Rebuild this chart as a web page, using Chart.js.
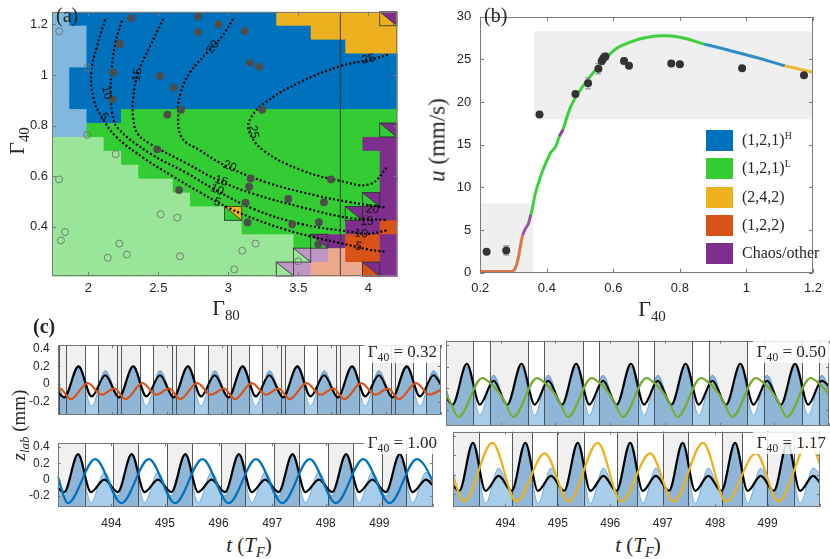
<!DOCTYPE html>
<html>
<head>
<meta charset="utf-8">
<script src="https://cdn.jsdelivr.net/npm/chart.js@4.4.1/dist/chart.umd.min.js"></script>
<style>
  html, body { margin: 0; padding: 0; background: #fff; }
  #fig { position: relative; width: 830px; height: 559px; overflow: hidden; background: #fff;
         font-family: "Liberation Serif", "Times New Roman", serif; color: #262626; }
  #fig canvas { position: absolute; }
  .lbl { position: absolute; white-space: nowrap; line-height: 1; }
  .ctr { transform: translate(-50%, -50%); }
  .rot { transform: translate(-50%, -50%) rotate(-90deg); }
  sub { font-size: 0.68em; vertical-align: baseline; position: relative; top: 0.32em; }
  sup { font-size: 0.62em; vertical-align: baseline; position: relative; top: -0.6em; }
  .tag { position: absolute; background: rgba(255,255,255,0.85); font-size: 17px; line-height: 1;
         padding: 2px 3px 3px 4px; white-space: nowrap; }
  .key { position: absolute; left: 706px; width: 27px; height: 21px; }
  .keyt { position: absolute; left: 742px; font-size: 16px; line-height: 1; white-space: nowrap; }
</style>
</head>
<body>
<div id="fig">
  <canvas id="ca" width="410" height="300" style="left:0;top:0"></canvas>
  <canvas id="cb" width="410" height="300" style="left:420px;top:0"></canvas>
  <canvas id="c1" width="443" height="100" style="left:0;top:330px"></canvas>
  <canvas id="c2" width="387" height="100" style="left:443px;top:330px"></canvas>
  <canvas id="c3" width="443" height="104" style="left:0;top:428px"></canvas>
  <canvas id="c4" width="387" height="104" style="left:443px;top:428px"></canvas>

  <div class="lbl" style="left:56px;top:5px;font-size:20px">(a)</div>
  <div class="lbl" style="left:484px;top:5px;font-size:20px">(b)</div>
  <div class="lbl" style="left:33px;top:316px;font-size:20px;font-weight:bold">(c)</div>

  <div class="lbl ctr" style="left:226px;top:308px;font-size:22px">Γ<sub>80</sub></div>
  <div class="lbl rot" style="left:17px;top:141px;font-size:22px">Γ<sub>40</sub></div>
  <div class="lbl rot" style="left:437px;top:140px;font-size:23px"><i>u</i> (mm/s)</div>
  <div class="lbl ctr" style="left:652px;top:309px;font-size:22px">Γ<sub>40</sub></div>
  <div class="lbl rot" style="left:18px;top:425px;font-size:19px"><i>z</i><sub><i>lab</i></sub> (mm)</div>
  <div class="lbl ctr" style="left:249px;top:545px;font-size:21px"><i>t</i> (<i>T</i><sub><i>F</i></sub>)</div>
  <div class="lbl ctr" style="left:638px;top:545px;font-size:21px"><i>t</i> (<i>T</i><sub><i>F</i></sub>)</div>

  <div class="tag" style="right:390px;top:341px">Γ<sub>40</sub> = 0.32</div>
  <div class="tag" style="right:1px;top:341px">Γ<sub>40</sub> = 0.50</div>
  <div class="tag" style="right:390px;top:432px">Γ<sub>40</sub> = 1.00</div>
  <div class="tag" style="right:1px;top:432px">Γ<sub>40</sub> = 1.17</div>

  <div class="key" style="top:130px;background:#0072BD"></div>
  <div class="keyt" style="top:132px">(1,2,1)<sup>H</sup></div>
  <div class="key" style="top:158px;background:#33CC33"></div>
  <div class="keyt" style="top:160px">(1,2,1)<sup>L</sup></div>
  <div class="key" style="top:187px;background:#EDB120"></div>
  <div class="keyt" style="top:189px">(2,4,2)</div>
  <div class="key" style="top:215px;background:#D95319"></div>
  <div class="keyt" style="top:217px">(1,2,2)</div>
  <div class="key" style="top:243px;background:#7E2F8E"></div>
  <div class="keyt" style="top:245px">Chaos/other</div>
</div>

<script>
// ---------- (a) regime map ----------
const g80 = [1.802,1.925,2.048,2.171,2.295,2.418,2.541,2.664,2.788,2.911,3.034,3.157,3.281,3.404,3.527,3.650,3.774,3.897,4.020,4.143];
const g40 = [1.2225,1.1675,1.1125,1.0575,1.0025,0.9475,0.8925,0.8375,0.7825,0.7275,0.6725,0.6175,0.5625,0.5075,0.4525,0.3975,0.3425,0.2875,0.2325];
// b=(1,2,1)H  g=(1,2,1)L  y=(2,4,2)  o=(1,2,2)  p=chaos ; c,h,q,r = lighter versions
const regimeRows = [
  "cbbbbbbbbbbbbyyyyyyy",
  "ccbbbbbbbbbbbbbyyyyy",
  "ccbbbbbbbbbbbbbbbyyy",
  "ccbbbbbbbbbbbbbbbbbb",
  "cbbbbbbbbbbbbbbbbbbb",
  "cbbbbbbbbbbbbbbbbbbb",
  "cbbbbbbbbbbbbbbbbbbb",
  "ccbbgggggggggggggggg",
  "ccgggggggggggggggggg",
  "hhhgggggggggggggggpp",
  "hhhhgggggggggggggggp",
  "hhhhhggggggggggggggp",
  "hhhhhhhggggggggggggp",
  "hhhhhhhhgggggggggggp",
  "hhhhhhhhhhggggggggpp",
  "hhhhhhhhhhhggggggppo",
  "hhhhhhhhhhhhhhggpoop",
  "hhhhhhhhhhhhhhhrqoop",
  "hhhhhhhhhhhhhhrqqqop"
];
// [column, row, upper-right regime] for split cells
const splitCells = [[19,0,'p'],[19,8,'p'],[18,13,'p'],[10,14,'y'],[17,14,'p'],[15,16,'p'],[14,17,'r'],[13,18,'r'],[18,18,'p']];
const regimeColor = {b:'#0072BD', c:'#80B8DE', g:'#33CC33', h:'#99E699', y:'#EDB120',
                     o:'#D95319', q:'#ECA98C', p:'#7E2F8E', r:'#BF97C6'};

const speed5  = [[2.12,1.22],[2.06,1.11],[2.02,1.01],[2.04,0.90],[2.10,0.83],[2.20,0.755],[2.40,0.67],[2.60,0.60],[2.80,0.535],[3.00,0.475],[3.20,0.428],[3.40,0.39],[3.60,0.36],[3.80,0.335],[4.00,0.31],[4.13,0.30]];
const speed10 = [[2.24,1.215],[2.19,1.12],[2.165,1.01],[2.16,0.93],[2.17,0.85],[2.21,0.79],[2.44,0.69],[2.70,0.613],[2.90,0.548],[3.18,0.47],[3.51,0.412],[3.87,0.38],[4.00,0.372],[4.13,0.385]];
const speed15 = [[2.535,1.222],[2.44,1.113],[2.356,1.01],[2.32,0.908],[2.32,0.83],[2.35,0.77],[2.44,0.728],[2.70,0.651],[2.93,0.583],[3.18,0.53],[3.51,0.479],[3.87,0.434],[4.13,0.427]];
const speed20 = [[3.035,1.222],[2.95,1.15],[2.85,1.09],[2.726,1.01],[2.66,0.93],[2.642,0.86],[2.666,0.754],[2.797,0.702],[2.988,0.639],[3.274,0.575],[3.63,0.523],[3.869,0.497],[4.13,0.475]];
const speed25 = [[4.14,1.08],[4.01,1.06],[3.80,1.035],[3.51,0.971],[3.27,0.894],[3.16,0.83],[3.15,0.775],[3.25,0.702],[3.51,0.626],[3.80,0.581],[4.01,0.568],[4.14,0.638]];
const speedLabels = [
  ['5',2.11,0.835,60],['5',2.92,0.497,20],['5',3.93,0.322,12],
  ['10',2.13,0.93,78],['10',2.92,0.545,20],['10',3.95,0.372,5],
  ['15',2.35,1.0,-80],['15',2.95,0.58,18],['15',3.99,0.42,-3],
  ['20',2.89,1.11,-55],['20',3.01,0.638,22],['20',4.03,0.468,3],
  ['25',4.0,1.062,-12],['25',3.18,0.775,80]
];
const cutG80 = 3.8;

const walkG80 = [2.304,2.785,2.785,2.928,3.116,2.226,3.154,3.22,2.178,2.511,2.611,2.174,2.564,2.661,3.242,2.492,2.648,3.159,3.149,3.123,3.138,3.428,3.456,3.647,3.683,3.733,3.642];
const walkG40 = [1.225,1.231,1.17,1.2,1.174,1.123,1.048,1.033,1.01,0.995,0.95,0.904,0.843,0.863,0.863,0.706,0.545,0.591,0.558,0.495,0.417,0.51,0.41,0.418,0.497,0.587,0.331];
const stillG80 = [1.792,1.992,1.992,2.195,1.79,2.516,2.635,1.833,1.804,2.221,2.138,2.275,2.654,3.099,3.195,3.042,3.499];
const stillG40 = [1.173,1.029,0.763,0.687,0.587,0.449,0.436,0.379,0.346,0.333,0.277,0.29,0.283,0.305,0.333,0.231,0.263];

// ---------- (b) speed vs Gamma40 ----------
const seg122   = [[0.20,0.15],[0.295,0.15],[0.305,0.5],[0.313,1.5],[0.32,3.0],[0.327,4.4]];
const segChaos1= [[0.327,4.4],[0.335,5.1],[0.345,5.8],[0.352,6.8]];
const segL1    = [[0.352,6.8],[0.357,7.6],[0.364,9.05],[0.383,11.5],[0.398,12.97],[0.412,14.1],[0.427,14.8],[0.437,15.95]];
const segChaos2= [[0.437,15.95],[0.449,16.8]];
const segL2    = [[0.449,16.8],[0.47,19.3],[0.509,21.9],[0.558,24.3],[0.606,26.2],[0.655,27.1],[0.703,27.6],[0.752,27.77],[0.80,27.6],[0.873,26.8]];
const segH     = [[0.873,26.8],[0.945,26.1],[1.042,25.1],[1.115,24.26]];
const seg242   = [[1.115,24.26],[1.2,23.5]];
const expG40 = [0.219,0.278,0.378,0.486,0.524,0.555,0.565,0.570,0.576,0.632,0.647,0.774,0.80,0.987,1.173];
const expU   = [2.46,2.61,18.55,20.94,22.2,23.9,24.82,25.15,25.34,24.82,24.26,24.52,24.45,23.96,23.14];
const expErr = [0.15,0.55,0.2,0.2,0.65,0.6,0.4,0.5,0.4,0.35,0.2,0.35,0.2,0.2,0.2];
const shadeLow  = [[0.2,8.1],[0.36,8.1]];
const shadeHigh = [[0.36,28.3],[1.2,28.3]];

// ---------- (c) time traces ----------
const tBath = [493.00,493.12,493.38,493.62,493.87,494.12,494.38,494.62,494.87,495.12,495.38,495.62,495.87,496.12,496.38,496.62,496.87,497.12,497.38,497.62,497.87,498.12,498.38,498.62,498.87,499.12,499.38,499.62,499.87,500.00];

const zBlackTL = [-0.09, -0.15,0.20,-0.14,0.10, -0.15,0.20,-0.14,0.10, -0.15,0.20,-0.14,0.10, -0.15,0.20,-0.14,0.10, -0.15,0.20,-0.14,0.10, -0.15,0.20,-0.14,0.10, -0.15,0.20,-0.14,0.10, 0.00];
const zBathTL  = [0.03, -0.16,0.18,-0.25,0.15, -0.16,0.18,-0.25,0.15, -0.16,0.18,-0.25,0.15, -0.16,0.18,-0.25,0.15, -0.16,0.18,-0.25,0.15, -0.16,0.18,-0.25,0.15, -0.16,0.18,-0.25,0.15, 0.03];
const tDropTL  = [492.80, 493.04,493.24,493.55,493.80, 494.04,494.24,494.55,494.80, 495.04,495.24,495.55,495.80, 496.04,496.24,496.55,496.80, 497.04,497.24,497.55,497.80, 498.04,498.24,498.55,498.80, 499.04,499.24,499.55,499.80, 500.04];
const zDropTL  = [-0.12, -0.05,-0.17,0.01,-0.12, -0.05,-0.17,0.01,-0.12, -0.05,-0.17,0.01,-0.12, -0.05,-0.17,0.01,-0.12, -0.05,-0.17,0.01,-0.12, -0.05,-0.17,0.01,-0.12, -0.05,-0.17,0.01,-0.12, -0.05];
const linesTL = [493.03,493.15,493.50,493.74,494.09,494.16,494.50,494.74,495.09,495.16,495.50,495.74,496.09,496.16,496.50,496.74,497.09,497.16,497.50,497.74,498.09,498.16,498.50,498.74,499.09,499.16,499.50,499.74];
const grayTL  = [[493.03,493.50],[493.74,494.50],[494.74,495.50],[495.74,496.50],[496.74,497.50],[497.74,498.50],[498.74,499.50],[499.74,500.0]];

const zBlackTR = [-0.08, -0.15,0.225,-0.15,0.07, -0.15,0.225,-0.15,0.07, -0.15,0.225,-0.15,0.07, -0.15,0.225,-0.15,0.07, -0.15,0.225,-0.15,0.07, -0.15,0.225,-0.15,0.07, -0.15,0.225,-0.15,0.07, 0.02];
const zBathTR  = [0.00, -0.17,0.20,-0.25,0.12, -0.17,0.20,-0.25,0.12, -0.17,0.20,-0.25,0.12, -0.17,0.20,-0.25,0.12, -0.17,0.20,-0.25,0.12, -0.17,0.20,-0.25,0.12, -0.17,0.20,-0.25,0.12, 0.00];
const tDropTR  = [492.97,493.06, 493.23,493.66,493.85,493.97,494.06, 494.23,494.66,494.85,494.97,495.06, 495.23,495.66,495.85,495.97,496.06, 496.23,496.66,496.85,496.97,497.06, 497.23,497.66,497.85,497.97,498.06, 498.23,498.66,498.85,498.97,499.06, 499.23,499.66,499.85,499.97,500.06];
const zDropTR  = [-0.04,-0.11, -0.265,0.095,0.03,-0.04,-0.11, -0.265,0.095,0.03,-0.04,-0.11, -0.265,0.095,0.03,-0.04,-0.11, -0.265,0.095,0.03,-0.04,-0.11, -0.265,0.095,0.03,-0.04,-0.11, -0.265,0.095,0.03,-0.04,-0.11, -0.265,0.095,0.03,-0.04,-0.11];
const linesTR = [493.50,493.80,494.50,494.80,495.50,495.80,496.50,496.81,497.49,497.80,498.50,498.81,499.51,499.81];
const grayTR  = [[493.0,493.50],[493.80,494.50],[494.80,495.50],[495.80,496.50],[496.81,497.49],[497.80,498.50],[498.81,499.51],[499.81,500.0]];

const zBlackBL = [-0.10, -0.15,0.31,-0.15,0.00, -0.15,0.31,-0.15,0.00, -0.15,0.31,-0.15,0.00, -0.15,0.31,-0.15,0.00, -0.15,0.31,-0.15,0.00, -0.15,0.31,-0.15,0.00, -0.15,0.31,-0.15,0.00, -0.07];
const zBathBL  = [0.04, -0.20,0.29,-0.28,0.09, -0.20,0.29,-0.28,0.09, -0.20,0.29,-0.28,0.09, -0.20,0.29,-0.28,0.09, -0.20,0.29,-0.28,0.09, -0.20,0.29,-0.28,0.09, -0.20,0.29,-0.28,0.09, 0.02];
const tDropBL  = [493.00, 493.19,493.70, 494.19,494.70, 495.19,495.70, 496.19,496.70, 497.19,497.70, 498.19,498.70, 499.19,499.70, 500.19];
const zDropBL  = [0.04, -0.285,0.25, -0.285,0.25, -0.285,0.25, -0.285,0.25, -0.285,0.25, -0.285,0.25, -0.285,0.25, -0.285];
const linesBL = [493.50,494.04,494.50,495.04,495.50,496.05,496.50,497.04,497.50,498.04,498.50,499.04,499.50];
const grayBL  = [[493.0,493.50],[494.04,494.50],[495.04,495.50],[496.05,496.50],[497.04,497.50],[498.04,498.50],[499.04,499.50]];

const zBlackBR = [-0.11, -0.165,0.33,-0.165,-0.01, -0.165,0.33,-0.165,-0.01, -0.165,0.33,-0.165,-0.01, -0.165,0.33,-0.165,-0.01, -0.165,0.33,-0.165,-0.01, -0.165,0.33,-0.165,-0.01, -0.165,0.33,-0.165,-0.01, -0.08];
const zBathBR  = [0.03, -0.20,0.31,-0.295,0.07, -0.20,0.31,-0.295,0.07, -0.20,0.31,-0.295,0.07, -0.20,0.31,-0.295,0.07, -0.20,0.31,-0.295,0.07, -0.20,0.31,-0.295,0.07, -0.20,0.31,-0.295,0.07, 0.01];
const tDropBR  = [493.00, 493.21,493.75, 494.21,494.75, 495.21,495.76, 496.21,496.76, 497.21,497.77, 498.21,498.78, 499.21,499.78, 500.22];
const zDropBR  = [-0.02, -0.275,0.33, -0.275,0.22, -0.275,0.33, -0.275,0.22, -0.275,0.33, -0.275,0.22, -0.275,0.33, -0.275];
const linesBR = [493.49,494.12,494.51,494.98,495.49,496.13,496.51,497.00,497.49,498.13,498.52,498.98,499.50];
const grayBR  = [[493.0,493.49],[494.12,494.51],[494.98,495.49],[496.13,496.51],[497.00,497.49],[498.13,498.52],[498.98,499.50]];

// ---------- helpers ----------
const xy = (xs, ys) => xs.map((v, i) => ({x: v, y: ys[i]}));
const pairs = arr => arr.map(p => ({x: p[0], y: p[1]}));
const tickFont = {family: 'Liberation Sans', size: 13};
const TXT = '#262626';
const plainNum = v => String(Number(Number(v).toFixed(3)));   // 1 instead of 1.0

// box outline with inward ticks, as in the original axes
const boxTicks = {
  id: 'boxTicks',
  afterDatasetsDraw(chart, args, o) {
    const {ctx, chartArea: a, scales: {x, y}} = chart;
    const L = o.len || 4;
    ctx.save();
    ctx.strokeStyle = o.color || '#666';
    ctx.lineWidth = 1;
    ctx.beginPath();
    x.ticks.forEach(t => {
      const p = Math.round(x.getPixelForValue(t.value)) + 0.5;
      ctx.moveTo(p, a.bottom); ctx.lineTo(p, a.bottom - L);
      ctx.moveTo(p, a.top); ctx.lineTo(p, a.top + L);
    });
    y.ticks.forEach(t => {
      const p = Math.round(y.getPixelForValue(t.value)) + 0.5;
      ctx.moveTo(a.left, p); ctx.lineTo(a.left + L, p);
      ctx.moveTo(a.right, p); ctx.lineTo(a.right - L, p);
    });
    ctx.stroke();
    ctx.strokeRect(Math.round(a.left) + 0.5, Math.round(a.top) + 0.5, Math.round(a.width) - 1, Math.round(a.height) - 1);
    ctx.restore();
  }
};

// ---------- chart (a) ----------
const heatCells = {
  id: 'heatCells',
  beforeDatasetsDraw(chart) {
    const {ctx, scales: {x, y}} = chart;
    const dx = (g80[g80.length - 1] - g80[0]) / (g80.length - 1);
    const dy = (g40[0] - g40[g40.length - 1]) / (g40.length - 1);
    const cell = (i, j) => [x.getPixelForValue(g80[i] - dx / 2), y.getPixelForValue(g40[j] + dy / 2),
                            x.getPixelForValue(g80[i] + dx / 2), y.getPixelForValue(g40[j] - dy / 2)];
    ctx.save();
    regimeRows.forEach((row, j) => {
      [...row].forEach((k, i) => {
        const [x0, y0, x1, y1] = cell(i, j);
        ctx.fillStyle = regimeColor[k];
        ctx.fillRect(x0, y0, x1 - x0 + 0.7, y1 - y0 + 0.7);
      });
    });
    splitCells.forEach(([i, j, k]) => {
      const [x0, y0, x1, y1] = cell(i, j);
      ctx.fillStyle = regimeColor[k];
      ctx.beginPath(); ctx.moveTo(x0, y0); ctx.lineTo(x1, y0); ctx.lineTo(x1, y1); ctx.closePath(); ctx.fill();
      ctx.strokeStyle = 'rgba(40,40,40,0.8)'; ctx.lineWidth = 1;
      ctx.strokeRect(x0, y0, x1 - x0, y1 - y0);
      ctx.beginPath(); ctx.moveTo(x0, y0); ctx.lineTo(x1, y1); ctx.stroke();
    });
    ctx.restore();
  },
  afterDatasetsDraw(chart) {
    const {ctx, scales: {x, y}} = chart;
    ctx.save();
    ctx.font = '12px "Liberation Sans"';
    ctx.fillStyle = '#111';
    ctx.textAlign = 'center';
    ctx.textBaseline = 'middle';
    speedLabels.forEach(([s, gx, gy, r]) => {
      ctx.save();
      ctx.translate(x.getPixelForValue(gx), y.getPixelForValue(gy));
      ctx.rotate(r * Math.PI / 180);
      ctx.fillText(s, 0, 0);
      ctx.restore();
    });
    ctx.restore();
  }
};

const contourSet = data => ({type: 'line', data: pairs(data), borderColor: '#000', borderWidth: 2.2,
  borderDash: [2, 2.2], pointRadius: 0, tension: 0.4, fill: false, order: 2});

new Chart(document.getElementById('ca'), {
  type: 'scatter',
  data: {
    datasets: [
      {data: xy(walkG80, walkG40), pointRadius: 3.9, backgroundColor: '#4D4D4D', borderWidth: 0, order: 0},
      {data: xy(stillG80, stillG40), pointRadius: 3.5, backgroundColor: 'rgba(0,0,0,0)', borderColor: '#707070', borderWidth: 0.9, order: 1},
      contourSet(speed5), contourSet(speed10), contourSet(speed15), contourSet(speed20), contourSet(speed25),
      {type: 'line', data: [{x: cutG80, y: 0.205}, {x: cutG80, y: 1.25}], borderColor: '#333', borderWidth: 0.9, pointRadius: 0, order: 3}
    ]
  },
  options: {
    responsive: false, animation: false, events: [],
    layout: {padding: {top: 4, right: 13, left: 0, bottom: 0}},
    plugins: {legend: {display: false}, tooltip: {enabled: false}, boxTicks: {color: '#7a7a7a'}},
    scales: {
      x: {type: 'linear', min: 1.74, max: 4.205,
          ticks: {stepSize: 0.5, includeBounds: false, font: tickFont, color: TXT, padding: 5, maxRotation: 0, callback: plainNum},
          grid: {display: false, drawTicks: false}, border: {display: false},
          afterFit(s) { s.height = 24; }},
      y: {type: 'linear', min: 0.205, max: 1.25,
          ticks: {stepSize: 0.2, includeBounds: false, font: tickFont, color: TXT, padding: 4, callback: plainNum},
          grid: {display: false, drawTicks: false}, border: {display: false},
          afterFit(s) { s.width = 52; }}
    }
  },
  plugins: [heatCells, boxTicks]
});

// ---------- chart (b) ----------
const errBars = {
  id: 'errBars',
  beforeDatasetDraw(chart, args) {
    if (args.index !== 0) return;
    const {ctx, scales: {x, y}} = chart;
    ctx.save();
    ctx.strokeStyle = '#8C8C8C';
    ctx.lineWidth = 1;
    ctx.beginPath();
    expG40.forEach((v, i) => {
      const px = x.getPixelForValue(v);
      const y0 = y.getPixelForValue(expU[i] - expErr[i]), y1 = y.getPixelForValue(expU[i] + expErr[i]);
      ctx.moveTo(px, y0); ctx.lineTo(px, y1);
      ctx.moveTo(px - 3, y0); ctx.lineTo(px + 3, y0);
      ctx.moveTo(px - 3, y1); ctx.lineTo(px + 3, y1);
    });
    ctx.stroke();
    ctx.restore();
  }
};
const curveSet = (data, color) => ({type: 'line', data: pairs(data), borderColor: color, borderWidth: 3,
  pointRadius: 0, cubicInterpolationMode: 'monotone', fill: false, order: 1});
const shadeSet = (data, base) => ({type: 'line', data: pairs(data), borderWidth: 0, pointRadius: 0,
  backgroundColor: '#EFEFEF', fill: {value: base}, order: 3});

new Chart(document.getElementById('cb'), {
  type: 'scatter',
  data: {
    datasets: [
      {data: xy(expG40, expU), pointRadius: 4, backgroundColor: '#333', borderWidth: 0, order: 0},
      curveSet(seg122, 'rgba(217,83,25,0.78)'),
      curveSet(segChaos1, 'rgba(126,47,142,0.8)'),
      curveSet(segL1, 'rgba(51,204,51,0.95)'),
      curveSet(segChaos2, 'rgba(126,47,142,0.9)'),
      curveSet(segL2, 'rgba(51,204,51,0.95)'),
      curveSet(segH, 'rgba(0,114,189,0.8)'),
      curveSet(seg242, 'rgba(237,177,32,0.9)'),
      shadeSet(shadeLow, 0),
      shadeSet(shadeHigh, 18)
    ]
  },
  options: {
    responsive: false, animation: false, events: [],
    layout: {padding: {top: 4.3, right: 5.7, left: 0, bottom: 0}},
    plugins: {legend: {display: false}, tooltip: {enabled: false}, boxTicks: {color: '#7a7a7a'}},
    scales: {
      x: {type: 'linear', min: 0.2, max: 1.2,
          ticks: {stepSize: 0.2, font: tickFont, color: TXT, padding: 8, maxRotation: 0, callback: plainNum},
          grid: {display: false, drawTicks: false}, border: {display: false},
          afterFit(s) { s.height = 27.3; }},
      y: {type: 'linear', min: 0, max: 30,
          ticks: {stepSize: 5, font: tickFont, color: TXT, padding: 9, callback: plainNum},
          grid: {display: false, drawTicks: false}, border: {display: false},
          afterFit(s) { s.width = 60.3; }}
    }
  },
  plugins: [errBars, boxTicks]
});

// ---------- charts (c) ----------
function bandLayer(gray, lines) {
  const bandPath = (ctx, x, a) => {
    gray.forEach(([t0, t1]) => {
      const p0 = x.getPixelForValue(t0), p1 = x.getPixelForValue(t1);
      ctx.rect(p0, a.top, p1 - p0, a.height);
    });
  };
  const curvePath = (ctx, pts) => {
    ctx.moveTo(pts[0].x, pts[0].y);
    for (let i = 1; i < pts.length; i++) {
      const p = pts[i - 1], c = pts[i];
      ctx.bezierCurveTo(p.cp2x ?? p.x, p.cp2y ?? p.y, c.cp1x ?? c.x, c.cp1y ?? c.y, c.x, c.y);
    }
  };
  return {
    id: 'bandLayer',
    beforeDatasetsDraw(chart) {
      const {ctx, chartArea: a, scales: {x}} = chart;
      ctx.save();
      ctx.fillStyle = '#F0F0F0';
      ctx.beginPath(); bandPath(ctx, x, a); ctx.fill();
      ctx.restore();
    },
    afterDatasetDraw(chart, args) {
      if (args.index !== 2) return;
      const {ctx, chartArea: a, scales: {x}} = chart;
      const pts = args.meta.data;
      ctx.save();
      ctx.beginPath(); ctx.rect(a.left, a.top, a.width, a.height); ctx.clip();
      ctx.beginPath(); bandPath(ctx, x, a); ctx.clip();
      ctx.beginPath(); curvePath(ctx, pts);
      ctx.lineTo(pts[pts.length - 1].x, a.bottom); ctx.lineTo(pts[0].x, a.bottom); ctx.closePath();
      ctx.fillStyle = '#8FB6D6'; ctx.fill();
      ctx.beginPath(); curvePath(ctx, pts);
      ctx.strokeStyle = '#5B9ED4'; ctx.lineWidth = 0.8; ctx.stroke();
      ctx.restore();
      ctx.save();
      ctx.strokeStyle = 'rgba(60,60,60,0.85)';
      ctx.lineWidth = 1;
      ctx.beginPath();
      lines.forEach(t => {
        const p = Math.round(x.getPixelForValue(t)) + 0.5;
        ctx.moveTo(p, a.top); ctx.lineTo(p, a.bottom);
      });
      ctx.stroke();
      ctx.restore();
    }
  };
}

function tracePanel(id, o) {
  const cFont = {family: 'Liberation Sans', size: 12};
  return new Chart(document.getElementById(id), {
    type: 'line',
    data: {
      datasets: [
        {data: xy(o.tDrop, o.zDrop), borderColor: o.color, borderWidth: 2.2, pointRadius: 0,
         cubicInterpolationMode: 'monotone', fill: false, order: 0},
        {data: xy(tBath, o.zBlack), borderColor: '#000', borderWidth: 2.2, pointRadius: 0,
         cubicInterpolationMode: 'monotone', fill: false, order: 1},
        {data: xy(tBath, o.zBath), borderColor: '#5B9ED4', borderWidth: 0.8, pointRadius: 0,
         backgroundColor: '#A9CEEB', fill: 'start', cubicInterpolationMode: 'monotone', order: 2}
      ]
    },
    options: {
      responsive: false, animation: false, events: [],
      layout: {padding: o.pad},
      plugins: {legend: {display: false}, tooltip: {enabled: false}, boxTicks: {color: '#777', len: 3}},
      scales: {
        x: {type: 'linear', min: 493, max: 500,
            ticks: {display: o.xLabels, stepSize: 1, font: cFont, color: TXT, padding: 10, maxRotation: 0,
                    callback: v => (v > 493 && v < 500) ? String(v) : ''},
            grid: {display: false, drawTicks: false}, border: {display: false},
            afterFit(s) { s.height = o.xh; }},
        y: {type: 'linear', min: o.ymin, max: o.ymax,
            ticks: {display: o.yLabels, stepSize: 0.2, includeBounds: false, font: cFont, color: TXT, padding: 8, callback: plainNum},
            grid: {display: false, drawTicks: false}, border: {display: false},
            afterFit(s) { s.width = o.yw; }}
      }
    },
    plugins: [bandLayer(o.gray, o.lines), boxTicks]
  });
}

tracePanel('c1', {tDrop: tDropTL, zDrop: zDropTL, zBlack: zBlackTL, zBath: zBathTL, color: '#D95319',
  gray: grayTL, lines: linesTL, ymin: -0.348, ymax: 0.44, xLabels: false, yLabels: true,
  xh: 4, yw: 57.7, pad: {top: 10.7, right: 2.3, left: 0, bottom: 0}});
tracePanel('c2', {tDrop: tDropTR, zDrop: zDropTR, zBlack: zBlackTR, zBath: zBathTR, color: '#77AC30',
  gray: grayTR, lines: linesTR, ymin: -0.348, ymax: 0.44, xLabels: false, yLabels: false,
  xh: 4, yw: 3, pad: {top: 10.7, right: 1, left: 0, bottom: 0}});
tracePanel('c3', {tDrop: tDropBL, zDrop: zDropBL, zBlack: zBlackBL, zBath: zBathBL, color: '#0072BD',
  gray: grayBL, lines: linesBL, ymin: -0.328, ymax: 0.444, xLabels: true, yLabels: true,
  xh: 25.3, yw: 57.7, pad: {top: 3.7, right: 2.3, left: 0, bottom: 0}});
tracePanel('c4', {tDrop: tDropBR, zDrop: zDropBR, zBlack: zBlackBR, zBath: zBathBR, color: '#EDB120',
  gray: grayBR, lines: linesBR, ymin: -0.328, ymax: 0.444, xLabels: true, yLabels: false,
  xh: 25.3, yw: 3, pad: {top: 3.7, right: 1, left: 0, bottom: 0}});
</script>
</body>
</html>
